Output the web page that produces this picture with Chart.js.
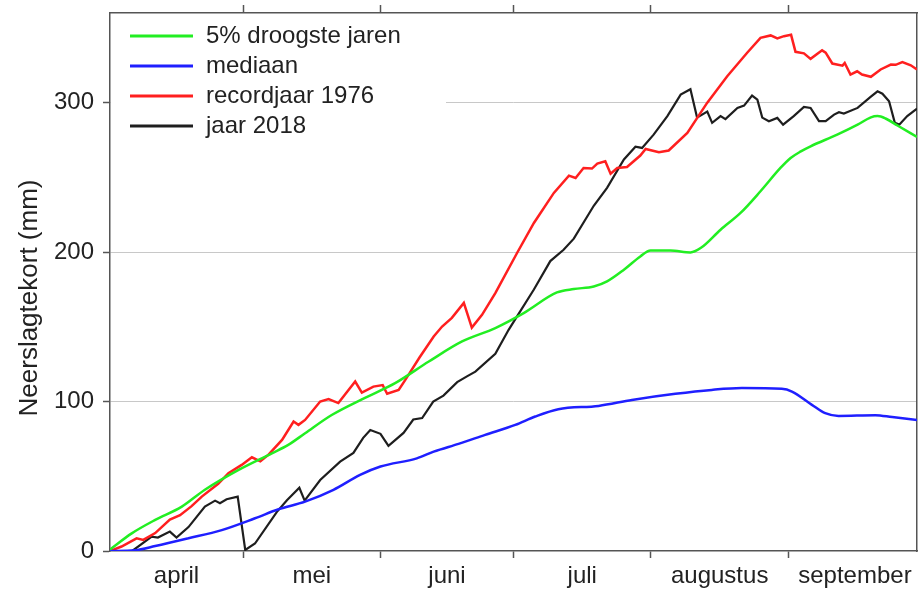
<!DOCTYPE html>
<html>
<head>
<meta charset="utf-8">
<title>Neerslagtekort</title>
<script src="https://cdn.jsdelivr.net/npm/chart.js@4.4.1/dist/chart.umd.min.js"></script>
<style>
  html, body { margin: 0; padding: 0; background: #fff; }
</style>
</head>
<body>
<canvas id="chart" width="918" height="592"></canvas>
<script>
/* ===============================
   DATA (dag 0 = 1 april)
================================ */
const maanden = ["april", "mei", "juni", "juli", "augustus", "september"];
const maandGrenzen = [0, 30, 61, 91, 122, 153, 183];
const yTicks = [0, 100, 200, 300];

// 5% droogste jaren
const dagGroen = [0, 4.9, 10.2, 16.2, 21.4, 29, 36.5, 40.2, 44, 50, 57.5, 64.3, 71.9, 79.4, 86.9, 93.3,
  100.8, 104.6, 109.1, 112.1, 115.9, 119.6, 121.9, 126.4, 130.9, 133.2, 137.7, 142.2, 146.7, 151.2,
  153.5, 155.8, 158, 164, 168.6, 171.6, 173.1, 174.9, 177.6, 182];
const groen = [1, 11.8, 20.8, 29.7, 41, 54.3, 65.4, 71, 78.8, 91, 102.5, 112.3, 126.8, 140.2, 149.2, 159.2,
  173, 175.3, 177, 180.4, 188.2, 197.1, 201, 201, 199.8, 202.7, 215, 226.2, 240.7, 256.3,
  263, 267.4, 270.8, 278.6, 285.3, 290.2, 291, 289.4, 284.7, 277];

// mediaan
const dagBlauw = [0, 5.6, 10.2, 17.7, 25.2, 32.7, 38, 44, 50.4, 56.4, 61, 69.2, 73, 78.6, 84.6, 91.4,
  95.9, 101.1, 110.2, 117.7, 127.5, 135.7, 142.5, 151.5, 153.8, 158.3, 161.3, 164.3, 172.6, 176.4, 182];
const blauw = [0, 0.5, 3.3, 8.5, 14, 21.9, 27.9, 33, 40.9, 50.9, 56.5, 62, 66.5, 71.7, 77.7, 84.4,
  90, 94.9, 97.1, 101.1, 105.2, 107.8, 109, 108.5, 106.7, 97.8, 92.2, 90.4, 90.9, 89.6, 87.7];

// recordjaar 1976
const dagRood = [0, 2.6, 6, 7.5, 10.2, 13.5, 15.8, 18.4, 20.7, 24.4, 26.7, 29.7, 32, 33.9, 35.7, 38.8,
  41.4, 42.5, 44, 47.4, 49.3, 51.5, 55.3, 56.8, 59.4, 61.5, 62.5, 65.1, 66.6, 69.8, 73, 74.9, 77.1,
  79.8, 81.6, 83.9, 86.9, 91.8, 95.6, 100.1, 103.5, 105, 106.8, 108.7, 109.9, 111.7, 112.9, 114.4,
  116.6, 119.6, 120.8, 123.8, 126, 130.2, 134.7, 139.2, 143.7, 146.7, 149, 150.5, 152, 153.6, 154.6,
  156.5, 158, 160.6, 161.4, 162.9, 165.2, 165.7, 167, 168.5, 169.6, 171.6, 173.8, 176.1, 177.2,
  178.7, 180.6, 182];
const rood = [0, 3, 8.5, 7.4, 12, 21, 24, 30, 36.4, 45, 52, 57.6, 62.7, 60, 64.3, 74.3,
  86.6, 84.4, 87.7, 100, 101.6, 99, 113.4, 106, 110, 111, 105.2, 107.8, 114.5, 129.5, 143.5, 150.2, 156,
  166, 149.5, 158, 172.6, 199.4, 219.5, 239.6, 251.2, 249.6, 256.3, 255.9, 259.2, 260.8, 252.5, 256.3,
  257, 264.6, 269, 266.8, 268, 279.8, 300, 317.7, 333.4, 343.4, 345, 343, 344.5, 345.4, 334,
  333, 329.3, 335, 333.5, 326.2, 324.8, 326.6, 318.8, 321, 318.8, 317.3, 322.2, 325.5, 325.3,
  327.1, 325, 322.2];

// jaar 2018
const dagZwart = [0, 5, 9.4, 10.8, 13.5, 15, 17.7, 21.4, 23.7, 24.8, 26.3, 28.8, 30.5, 32.7, 37.6, 39.9,
  42.7, 43.9, 47.4, 51.9, 54.9, 57.1, 58.7, 61, 62.8, 66.2, 68.4, 70.4, 72.9, 75.2, 78.3, 80.6, 82.4,
  86.9, 89.9, 91.8, 95.6, 99.3, 102.3, 104.6, 109.1, 112.1, 115.9, 118.5, 120, 122.6, 125.7, 128.7,
  130.9, 132.4, 134.7, 135.8, 137.7, 138.8, 141.5, 143, 144.8, 146, 147.1, 148.6, 150.5, 151.8, 154.2,
  156.5, 158, 159.9, 161.4, 163.3, 164.4, 165.5, 168.6, 171.6, 173.1, 174.2, 175.7, 177, 178, 179.8, 182];
const zwart = [0, 0, 9.6, 9, 13, 9, 16, 29.7, 33.7, 32, 34.6, 36.4, 0.7, 5, 26, 34,
  42.3, 33.7, 47.5, 59.8, 65.6, 75.7, 81, 78.4, 70.3, 79, 88, 89, 100, 104, 113, 117, 120,
  132, 148, 157, 175, 194, 201.6, 209, 231, 243, 262, 270.5, 269.7, 278.6, 291, 305.4,
  309, 290, 294, 286.5, 291, 289, 296.5, 298, 304.7, 302, 290, 287.6, 289.8, 285.3, 291,
  297.2, 296.5, 287.6, 287.6, 292, 293.6, 292.7, 296.5, 304, 307.6, 306, 301, 286.5, 285.3, 291, 296];

const yTitel = "Neerslagtekort (mm)";

/* ===============================
   HULPFUNCTIES
================================ */
const FONT = '"Liberation Sans", Arial, Helvetica, sans-serif';
const AS_KLEUR = "#555";
const TEKST_KLEUR = "#222";

function punten(dagen, waarden) {
    return dagen.map((d, i) => ({ x: d, y: waarden[i] }));
}

// geen extra ruimte voor half uitstekende labels
function geenPadding(s) {
    s.paddingTop = 0; s.paddingBottom = 0; s.paddingLeft = 0; s.paddingRight = 0;
}

const grensTicks = maandGrenzen.slice(1, -1);
const middenTicks = maanden.map((m, i) => (maandGrenzen[i] + maandGrenzen[i + 1]) / 2);

// legenda binnen het plotvlak, met witte achtergrond
const legendeInPlot = {
    id: "legendeInPlot",
    beforeDatasetsDraw(chart) {
        const { ctx, chartArea } = chart;
        ctx.save();
        ctx.fillStyle = "#fff";
        ctx.fillRect(chartArea.left + 1, chartArea.top + 1, 335, 132);
        ctx.font = "24px " + FONT;
        ctx.textBaseline = "middle";
        chart.data.datasets.forEach((ds, i) => {
            const y = chartArea.top + 23 + i * 30;
            ctx.strokeStyle = ds.borderColor;
            ctx.lineWidth = 3;
            ctx.beginPath();
            ctx.moveTo(chartArea.left + 20, y);
            ctx.lineTo(chartArea.left + 83, y);
            ctx.stroke();
            ctx.fillStyle = TEKST_KLEUR;
            ctx.fillText(ds.label, chartArea.left + 96, y);
        });
        ctx.restore();
    }
};

// y-as titel, iets onder het midden zoals in het origineel
const yAsTitel = {
    id: "yAsTitel",
    afterDraw(chart) {
        const { ctx } = chart;
        ctx.save();
        ctx.translate(30, 298);
        ctx.rotate(-Math.PI / 2);
        ctx.font = "26px " + FONT;
        ctx.fillStyle = TEKST_KLEUR;
        ctx.textAlign = "center";
        ctx.textBaseline = "middle";
        ctx.fillText(yTitel, 0, 0);
        ctx.restore();
    }
};

/* ===============================
   CHART
================================ */
const lijn = { pointRadius: 0, borderWidth: 2.5, fill: false };

new Chart(document.getElementById("chart"), {
    type: "line",
    data: {
        datasets: [
            { ...lijn, label: "5% droogste jaren", data: punten(dagGroen, groen), borderColor: "#22ee22", cubicInterpolationMode: "monotone" },
            { ...lijn, label: "mediaan", data: punten(dagBlauw, blauw), borderColor: "#1f1fff", cubicInterpolationMode: "monotone" },
            { ...lijn, label: "recordjaar 1976", data: punten(dagRood, rood), borderColor: "#ff1f1f", tension: 0 },
            { ...lijn, label: "jaar 2018", data: punten(dagZwart, zwart), borderColor: "#1e1e1e", borderWidth: 2.2, tension: 0 }
        ]
    },
    options: {
        responsive: false,
        animation: false,
        layout: { padding: 0 },
        plugins: { legend: { display: false }, tooltip: { enabled: false } },
        scales: {
            x: {
                type: "linear", position: "bottom", min: 0, max: 182,
                afterBuildTicks: s => {
                    s.ticks = [...grensTicks, ...middenTicks].sort((a, b) => a - b).map(v => ({ value: v }));
                },
                afterFit: s => { s.height = 41; geenPadding(s); },
                ticks: {
                    autoSkip: false, maxRotation: 0, padding: 4, color: TEKST_KLEUR,
                    font: { family: FONT, size: 24 },
                    callback: v => {
                        const i = middenTicks.indexOf(v);
                        return i >= 0 ? maanden[i] : "";
                    }
                },
                grid: {
                    drawOnChartArea: false, tickLength: 7, tickWidth: 1.5,
                    tickColor: c => (c.tick && grensTicks.includes(c.tick.value)) ? AS_KLEUR : "rgba(0,0,0,0)"
                },
                border: { color: AS_KLEUR, width: 1.5 }
            },
            x2: {
                type: "linear", position: "top", min: 0, max: 182,
                afterBuildTicks: s => { s.ticks = grensTicks.map(v => ({ value: v })); },
                afterFit: s => { s.height = 13; geenPadding(s); },
                ticks: { display: false },
                grid: { drawOnChartArea: false, tickLength: 8, tickWidth: 1.5, tickColor: AS_KLEUR },
                border: { color: AS_KLEUR, width: 1.5 }
            },
            y: {
                position: "left", min: 0, max: 360,
                afterBuildTicks: s => { s.ticks = yTicks.map(v => ({ value: v })); },
                afterFit: s => { s.width = 110; geenPadding(s); },
                ticks: { padding: 9, color: TEKST_KLEUR, font: { family: FONT, size: 24 } },
                grid: {
                    color: c => (c.tick && c.tick.value === 0) ? "rgba(0,0,0,0)" : "#c8c8c8",
                    lineWidth: 1, tickLength: 7, tickWidth: 1.5, tickColor: AS_KLEUR
                },
                border: { color: AS_KLEUR, width: 1.5 }
            },
            y2: {
                position: "right", min: 0, max: 360,
                afterFit: s => { s.width = 1; geenPadding(s); },
                ticks: { display: false },
                grid: { drawOnChartArea: false, drawTicks: false },
                border: { color: AS_KLEUR, width: 1.5 }
            }
        }
    },
    plugins: [legendeInPlot, yAsTitel]
});
</script>
</body>
</html>
